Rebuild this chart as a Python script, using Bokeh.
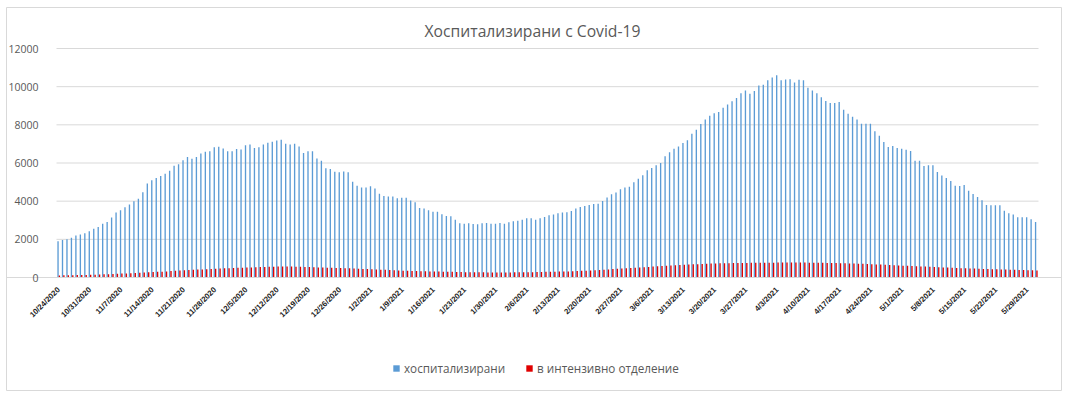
from datetime import date, timedelta
from math import pi

from bokeh.plotting import figure
from bokeh.models import ColumnDataSource, FixedTicker, Label, Legend, LegendItem, Range1d
from bokeh.transform import dodge
from bokeh.embed import file_html
from bokeh.resources import INLINE

# ---------------- data ----------------
start_date = date(2020, 10, 24)

hospitalized = [
    1900, 1970, 2000, 2080, 2200, 2250, 2320, 2420, 2560, 2650,
    2820, 2910, 3140, 3400, 3520, 3680, 3820, 3990, 4130, 4470,
    4920, 5090, 5210, 5320, 5440, 5600, 5860, 5930, 6140, 6310,
    6220, 6310, 6500, 6590, 6610, 6820, 6850, 6760, 6610, 6610,
    6730, 6710, 6930, 6970, 6790, 6820, 6970, 7060, 7110, 7180,
    7220, 7010, 6970, 7010, 6870, 6520, 6610, 6610, 6240, 6120,
    5720, 5680, 5540, 5510, 5560, 5510, 5020, 4810, 4720, 4720,
    4780, 4670, 4390, 4270, 4240, 4240, 4150, 4180, 4180, 4030,
    3940, 3640, 3610, 3520, 3450, 3450, 3310, 3220, 3210, 3030,
    2840, 2820, 2840, 2810, 2790, 2840, 2860, 2820, 2820, 2860,
    2820, 2890, 2950, 2980, 3030, 3100, 3100, 3020, 3100, 3170,
    3260, 3300, 3370, 3400, 3420, 3490, 3610, 3700, 3750, 3800,
    3850, 3870, 4010, 4190, 4360, 4460, 4620, 4710, 4760, 4990,
    5170, 5360, 5620, 5740, 5880, 6000, 6350, 6560, 6750, 6870,
    7050, 7190, 7530, 7740, 8040, 8280, 8480, 8610, 8670, 8890,
    9070, 9230, 9400, 9660, 9800, 9630, 9770, 10060, 10100, 10340,
    10480, 10600, 10330, 10380, 10390, 10220, 10360, 10330, 9940, 9800,
    9660, 9450, 9250, 9150, 9150, 9200, 8790, 8580, 8420, 8280,
    8060, 8060, 8060, 7660, 7430, 7100, 6840, 6890, 6780, 6750,
    6700, 6630, 6120, 6120, 5840, 5880, 5880, 5530, 5350, 5210,
    5060, 4810, 4800, 4850, 4550, 4380, 4220, 4050, 3800, 3780,
    3780, 3780, 3500, 3370, 3300, 3160, 3160, 3160, 3050, 2910,
]

intensive_care = [
    110, 115, 120, 120, 125, 130, 135, 140, 150, 155,
    165, 175, 185, 195, 205, 215, 225, 235, 245, 260,
    270, 285, 295, 305, 320, 335, 350, 365, 380, 395,
    405, 415, 425, 435, 450, 460, 470, 480, 490, 500,
    505, 515, 525, 530, 540, 545, 550, 560, 565, 570,
    575, 575, 570, 565, 560, 555, 545, 540, 530, 520,
    515, 510, 500, 495, 490, 480, 470, 460, 450, 440,
    430, 420, 410, 400, 390, 380, 370, 360, 350, 345,
    340, 330, 325, 320, 315, 310, 305, 300, 295, 290,
    285, 280, 278, 275, 272, 270, 268, 266, 265, 265,
    265, 268, 270, 272, 275, 278, 280, 285, 290, 295,
    300, 305, 310, 315, 320, 330, 340, 350, 360, 370,
    380, 395, 410, 425, 440, 455, 470, 480, 495, 510,
    525, 540, 555, 570, 585, 600, 615, 630, 645, 660,
    670, 680, 690, 700, 710, 720, 728, 735, 742, 748,
    752, 756, 760, 763, 766, 768, 770, 772, 774, 776,
    778, 780, 781, 782, 783, 783, 782, 780, 778, 775,
    772, 768, 764, 760, 755, 750, 744, 738, 730, 722,
    714, 705, 696, 686, 676, 666, 655, 644, 633, 622,
    611, 600, 590, 580, 570, 560, 550, 540, 530, 520,
    510, 500, 490, 482, 474, 466, 458, 450, 442, 435,
    428, 420, 413, 406, 400, 394, 388, 382, 376, 370,
]

tick_labels = [
    "10/24/2020", "10/31/2020", "11/7/2020", "11/14/2020", "11/21/2020",
    "11/28/2020", "12/5/2020", "12/12/2020", "12/19/2020", "12/26/2020",
    "1/2/2021", "1/9/2021", "1/16/2021", "1/23/2021", "1/30/2021",
    "2/6/2021", "2/13/2021", "2/20/2021", "2/27/2021", "3/6/2021",
    "3/13/2021", "3/20/2021", "3/27/2021", "4/3/2021", "4/10/2021",
    "4/17/2021", "4/24/2021", "5/1/2021", "5/8/2021", "5/15/2021",
    "5/22/2021", "5/29/2021",
]

y_ticks = [0, 2000, 4000, 6000, 8000, 10000, 12000]

series_names = ["хоспитализирани", "в интензивно отделение"]
title_text = "Хоспитализирани с Covid-19"

# ---------------- layout constants (page pixels) ----------------
W, H = 1062, 391
BOX_L, BOX_T, BOX_R, BOX_B = 6, 7, 1061, 390      # chart box = bokeh frame
PLOT_L, PLOT_R = 56, 1038                          # plot area (category axis extent)
PLOT_T, ZERO_Y = 48, 277                           # y of top tick and of zero

n = len(hospitalized)
y_top = max(y_ticks)
ppu_x = (PLOT_R - PLOT_L) / n
ppu_y = (ZERO_Y - PLOT_T) / y_top
x_min = -0.5 - (PLOT_L - BOX_L) / ppu_x
x_max = n - 0.5 + (BOX_R - PLOT_R) / ppu_x
y_min = -(BOX_B - ZERO_Y) / ppu_y
y_max = y_top + (PLOT_T - BOX_T) / ppu_y

# ---------------- build ----------------
idx = list(range(n))
dates = [start_date + timedelta(days=i) for i in idx]
tick_pos = [i for i in idx if i % 7 == 0]

source = ColumnDataSource(data=dict(x=idx, date=dates, hosp=hospitalized, icu=intensive_care))

BLUE = "#5B9BD5"
RED = "#E00000"
GRAY = "#595959"
GRID = "#D9D9D9"

p = figure(
    width=W, height=H,
    x_range=Range1d(x_min, x_max), y_range=Range1d(y_min, y_max),
    output_backend="svg", toolbar_location=None,
    min_border_left=BOX_L, min_border_right=W - BOX_R, min_border_top=BOX_T,
    min_border_bottom=H - BOX_B,
)

# horizontal gridlines limited to the plot area
p.segment(x0=-0.5, x1=n - 0.5, y0=y_ticks, y1=y_ticks, line_color=GRID, line_width=1,
          level="underlay")

r_h = p.vbar(x=dodge("x", -0.155, range=p.x_range), top="hosp", width=0.3, source=source,
             fill_color=BLUE, line_color=None)
r_i = p.vbar(x=dodge("x", 0.155, range=p.x_range), top="icu", width=0.3, source=source,
             fill_color=RED, line_color=None)

# chart title, inside the chart box
p.add_layout(Label(x=532 - BOX_L, y=BOX_B - 30, x_units="screen", y_units="screen",
                   text=title_text, text_align="center", text_baseline="middle",
                   text_font="Open Sans", text_font_size="15.7px", text_color=GRAY))

p.outline_line_color = GRID
p.outline_line_width = 1
p.xgrid.grid_line_color = None
p.ygrid.grid_line_color = None

p.yaxis.fixed_location = -0.5
p.yaxis.ticker = FixedTicker(ticks=y_ticks)
p.yaxis.axis_line_color = None
p.yaxis.major_tick_line_color = None
p.yaxis.minor_tick_line_color = None
p.yaxis.major_label_text_font = "Open Sans"
p.yaxis.major_label_text_font_size = "10.5px"
p.yaxis.major_label_text_color = GRAY
p.yaxis.major_label_standoff = 12

p.xaxis.fixed_location = 0
p.xaxis.ticker = FixedTicker(ticks=tick_pos)
p.xaxis.major_label_overrides = {t: lab for t, lab in zip(tick_pos, tick_labels)}
p.xaxis.major_label_orientation = pi / 4
p.xaxis.axis_line_color = GRID
p.xaxis.major_tick_line_color = None
p.xaxis.minor_tick_line_color = None
p.xaxis.major_label_text_font = "Liberation Sans"
p.xaxis.major_label_text_font_style = "bold"
p.xaxis.major_label_text_font_size = "7.8px"
p.xaxis.major_label_text_color = "#1A1A1A"
p.xaxis.major_label_standoff = 5

legend = Legend(
    items=[LegendItem(label=series_names[0], renderers=[r_h]),
           LegendItem(label=series_names[1], renderers=[r_i])],
    orientation="horizontal",
    location=(392 - BOX_L, BOX_B - 376),
    border_line_color=None,
    background_fill_alpha=0,
    label_text_font="Open Sans",
    label_text_font_size="11.7px",
    label_text_color=GRAY,
    glyph_width=8, glyph_height=8,
    label_standoff=4, spacing=20, padding=2, margin=0,
)
p.add_layout(legend, "center")

open("out.html", "w").write(file_html(p, INLINE))
